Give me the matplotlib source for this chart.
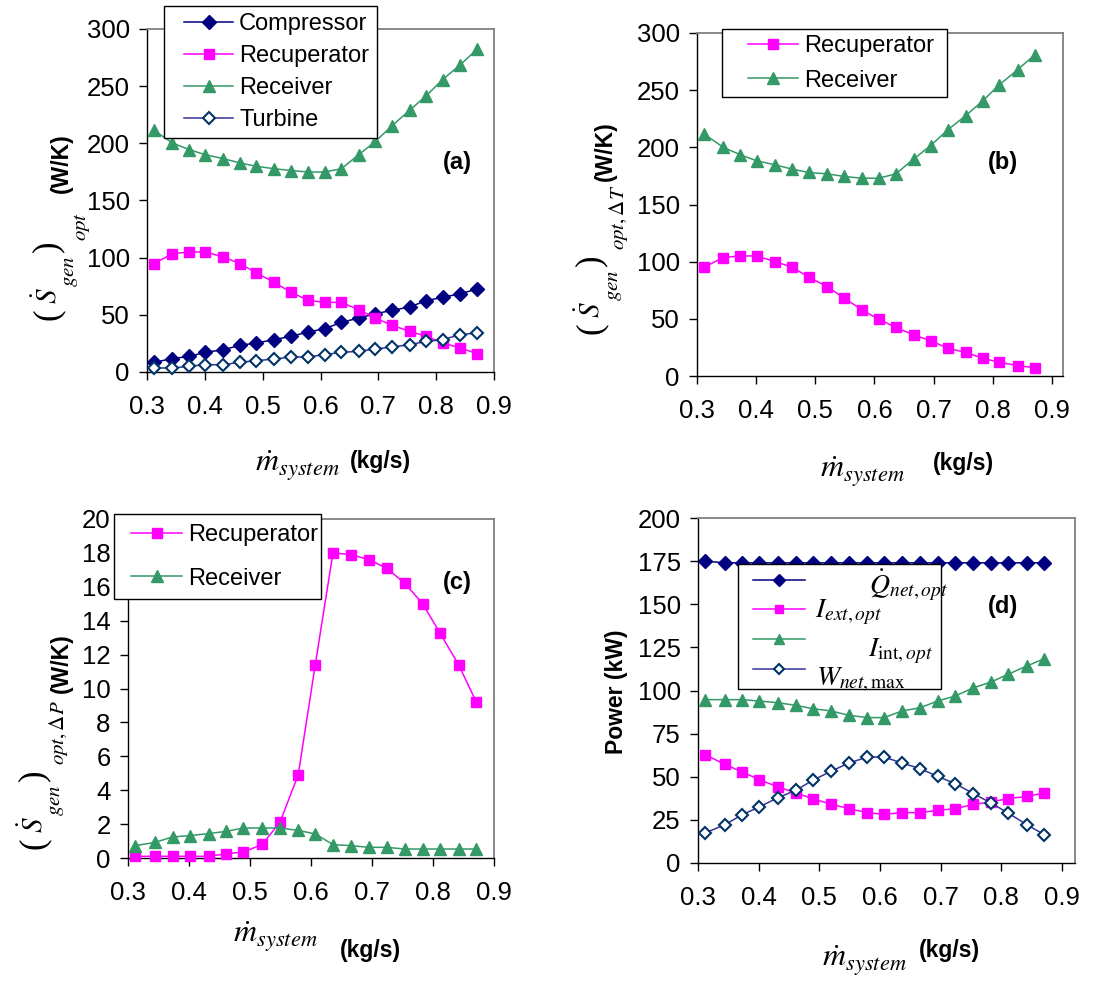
import matplotlib
matplotlib.use("Agg")
import matplotlib.pyplot as plt
from matplotlib.lines import Line2D
from matplotlib.legend_handler import HandlerLine2D

plt.rcParams['font.family'] = ['Liberation Sans', 'DejaVu Sans']
plt.rcParams['mathtext.fontset'] = 'stix'

W, H = 1112, 985

# flujo masico del sistema (kg/s)
m_dot = [0.312, 0.344, 0.373, 0.401, 0.432, 0.461, 0.489, 0.520, 0.549, 0.579,
         0.607, 0.636, 0.666, 0.695, 0.724, 0.754, 0.783, 0.811, 0.842, 0.871]

# (a) generacion de entropia total por componente (W/K)
sgen_compressor = [8.5, 11.7, 13.7, 17.2, 19.5, 23.3, 25.4, 28.3, 31.2, 35.0,
                   37.9, 43.4, 47.2, 51.0, 53.9, 56.9, 62.4, 65.3, 68.5, 72.6]
sgen_recuperator = [94.8, 103.5, 105.0, 105.0, 100.6, 94.8, 86.6, 78.4, 69.7, 62.7,
                    60.9, 60.9, 54.5, 47.2, 40.8, 35.6, 31.2, 25.4, 21.0, 16.0]
sgen_receiver = [211.4, 200.3, 194.5, 190.0, 186.6, 182.8, 179.9, 177.8, 176.2, 174.9,
                 174.9, 177.8, 190.0, 201.7, 215.5, 228.9, 241.7, 255.7, 268.8, 282.5]
sgen_turbine = [3.5, 3.5, 5.0, 6.4, 6.4, 8.5, 9.9, 11.4, 13.1, 13.1,
                15.2, 17.2, 18.1, 20.1, 21.9, 23.9, 26.8, 28.3, 32.7, 34.1]

# (b) parte por diferencia de temperatura (W/K)
dT_recuperator = [95.1, 103.6, 105.0, 105.0, 100.1, 95.1, 86.4, 78.2, 68.0, 57.8,
                  49.6, 42.6, 35.9, 30.9, 24.2, 20.7, 15.5, 12.0, 9.0, 7.3]
dT_receiver = [211.6, 200.2, 193.5, 188.2, 184.7, 180.9, 178.0, 176.8, 174.5, 173.0,
               173.0, 176.8, 189.7, 201.6, 215.4, 227.6, 240.7, 254.7, 267.9, 281.0]

# (c) parte por caida de presion (W/K)
dP_recuperator = [0.1, 0.1, 0.1, 0.1, 0.1, 0.25, 0.35, 0.8, 2.1, 4.9,
                  11.4, 18.0, 17.9, 17.6, 17.1, 16.2, 15.0, 13.3, 11.4, 9.2]
dP_receiver = [0.73, 0.92, 1.24, 1.32, 1.44, 1.57, 1.77, 1.77, 1.77, 1.63,
               1.42, 0.79, 0.73, 0.63, 0.63, 0.53, 0.53, 0.53, 0.53, 0.53]

# (d) potencias (kW)
q_net = [175, 174, 174, 174, 174, 174, 174, 174, 174, 174,
         174, 174, 174, 174, 174, 174, 174, 174, 174, 174]
i_ext = [62.8, 57.2, 52.8, 48.3, 44.1, 40.6, 37.3, 34.0, 31.5, 29.2,
         28.2, 29.2, 29.2, 30.5, 31.5, 34.0, 35.4, 37.3, 38.6, 40.6]
i_int = [94.7, 94.7, 94.7, 93.9, 92.9, 91.4, 89.5, 88.1, 85.6, 84.3,
         84.3, 88.1, 90.0, 93.9, 96.8, 101.6, 104.9, 109.4, 114.2, 118.5]
w_net = [17.4, 22.2, 28.0, 32.5, 37.9, 42.1, 47.9, 53.3, 58.0, 61.4,
         61.4, 58.0, 54.7, 50.2, 46.0, 40.2, 34.8, 29.0, 22.2, 16.4]

x_ticks = [0.3, 0.4, 0.5, 0.6, 0.7, 0.8, 0.9]

NAVY = '#000080'
MAGENTA = '#FF00FF'
GREEN = '#339966'

estilos = {
    'diamante': dict(color=NAVY, marker='D', markersize=7, mfc=NAVY, mec=NAVY),
    'cuadrado': dict(color=MAGENTA, marker='s', markersize=7, mfc=MAGENTA, mec=MAGENTA),
    'triangulo': dict(color=GREEN, marker='^', markersize=8.5, mfc=GREEN, mec=GREEN),
    'abierto': dict(color='#333399', marker='D', markersize=6.5, mfc='white',
                    mec='#003366', mew=1.5),
}


def px_box(left, top, right, bottom):
    return [left / W, 1 - bottom / H, (right - left) / W, (bottom - top) / H]


def preparar_ejes(ax, ylim, yticks, xmax):
    ax.set_xlim(0.3, xmax)
    ax.set_ylim(*ylim)
    ax.set_xticks(x_ticks)
    ax.set_xticklabels([f"{t:.1f}" for t in x_ticks])
    ax.set_yticks(yticks)
    ax.set_yticklabels([str(t) for t in yticks])
    for lado in ['left', 'bottom']:
        ax.spines[lado].set_color('black')
        ax.spines[lado].set_linewidth(1.0)
    for lado in ['top', 'right']:
        ax.spines[lado].set_color('#808080')
        ax.spines[lado].set_linewidth(1.3)
    ax.tick_params(axis='both', direction='out', length=5.5, width=1.0,
                   labelsize=18.5, top=False, right=False)
    ax.tick_params(axis='x', pad=11)
    ax.tick_params(axis='y', pad=7)


def graficar(ax, y, estilo, label):
    ax.plot(m_dot, y, lw=1.1, clip_on=False, label=label, zorder=3, **estilos[estilo])


def leyenda(ax, x0, y0, ancho, xpad, hlen, bpad, lspace, handles=None, labels=None):
    kw = dict(loc='upper left', bbox_to_anchor=(x0, y0, ancho, 0.0), mode='expand',
              fontsize=17, frameon=True, fancybox=False, edgecolor='black',
              framealpha=1, borderpad=bpad, labelspacing=lspace, handlelength=hlen,
              handletextpad=0.25, borderaxespad=0,
              handler_map={Line2D: HandlerLine2D(xpad=xpad)})
    if handles is None:
        leg = ax.legend(**kw)
    else:
        leg = ax.legend(handles, labels, **kw)
    leg.get_frame().set_linewidth(1.0)
    leg.set_zorder(5)
    return leg


def etiqueta_panel(texto, x, y):
    fig.text(x / W, 1 - y / H, texto, fontsize=17, fontweight='bold', ha='center', va='center')


def etiqueta_x(xm, ym, xk, yk):
    fig.text(xm / W, 1 - ym / H, r"$\dot{m}_{system}$", fontsize=23, va='baseline')
    fig.text(xk / W, 1 - yk / H, "(kg/s)", fontsize=16.5, fontweight='bold', va='baseline')


def etiqueta_y(sub, xb, yb, dx_sub, dy_sub, xw, yw):
    # (S_gen)_sub escrito en vertical, pieza por pieza
    piezas = [("(", 0, 0, 25, 'Liberation Serif'), (r"$\dot{S}$", 0, -18, 21, None),
              (r"$gen$", 23, -43, 15, None), (")", 0, -68, 25, 'Liberation Serif')]
    for texto, dx, dy, fs, fam in piezas:
        t = fig.text((xb + dx) / W, 1 - (yb + dy) / H, texto, fontsize=fs, rotation=90,
                     ha='center', va='center')
        if fam:
            t.set_family(fam)
    fig.text((xb + dx_sub) / W, 1 - (yb + dy_sub) / H, sub, fontsize=15, rotation=90,
             ha='center', va='bottom')
    fig.text(xw / W, 1 - yw / H, "(W/K)", fontsize=16.5, fontweight='bold',
             rotation=90, ha='center', va='center')


fig = plt.figure(figsize=(W / 100, H / 100), dpi=100)

# ==== (a) ====
ax_a = fig.add_axes(px_box(147, 29, 494, 372))
graficar(ax_a, sgen_compressor, 'diamante', 'Compressor')
graficar(ax_a, sgen_recuperator, 'cuadrado', 'Recuperator')
graficar(ax_a, sgen_receiver, 'triangulo', 'Receiver')
graficar(ax_a, sgen_turbine, 'abierto', 'Turbine')
preparar_ejes(ax_a, (0, 300), list(range(0, 301, 50)), 0.9)
leyenda(ax_a, 0.049, 1.067, 0.614, 0.55, 2.63, 0.3, 0.42)
etiqueta_panel("(a)", 457, 163)
etiqueta_y(r"$opt$", 48, 314, 34, -73, 61, 163)
etiqueta_x(255, 472, 350, 468)

# ==== (b) ====
ax_b = fig.add_axes(px_box(697, 33, 1063, 376))
graficar(ax_b, dT_recuperator, 'cuadrado', 'Recuperator')
graficar(ax_b, dT_receiver, 'triangulo', 'Receiver')
preparar_ejes(ax_b, (0, 300), list(range(0, 301, 50)), 0.9186)
leyenda(ax_b, 0.068, 1.012, 0.615, 0.85, 2.97, 0.25, 0.54)
etiqueta_panel("(b)", 1003, 163)
etiqueta_y(r"$opt,\Delta T$", 591, 328, 28, -78, 605, 151)
etiqueta_x(820, 478, 933, 470)

# ==== (c) ====
ax_c = fig.add_axes(px_box(128, 519, 494, 858))
graficar(ax_c, dP_recuperator, 'cuadrado', 'Recuperator')
graficar(ax_c, dP_receiver, 'triangulo', 'Receiver')
preparar_ejes(ax_c, (0, 20), list(range(0, 21, 2)), 0.9)
leyenda(ax_c, -0.038, 1.015, 0.566, 0.3, 2.46, 0.42, 0.92)
etiqueta_panel("(c)", 457, 583)
etiqueta_y(r"$opt,\Delta P$", 34, 843, 25, -78, 61, 663)
etiqueta_x(233, 943, 340, 957)

# ==== (d) ====
ax_d = fig.add_axes(px_box(698, 518, 1075, 863))
graficar(ax_d, q_net, 'diamante', None)
graficar(ax_d, i_ext, 'cuadrado', None)
graficar(ax_d, i_int, 'triangulo', None)
graficar(ax_d, w_net, 'abierto', None)
preparar_ejes(ax_d, (0, 200), list(range(0, 201, 25)), 0.9214)
handles = [Line2D([], [], lw=1.1, **dict(estilos[k], markersize=estilos[k]['markersize'] * 0.85))
           for k in ['diamante', 'cuadrado', 'triangulo', 'abierto']]
leyenda(ax_d, 0.106, 0.867, 0.539, 0.34, 2.54, 0.3, 0.33, handles, [' '] * 4)
etiquetas_d = [(r"$\dot{Q}_{net,opt}$", 0.453, 0.805),
               (r"$I_{ext,opt}$", 0.310, 0.728),
               (r"$I_{\mathrm{int},opt}$", 0.450, 0.615),
               (r"$W_{net,\mathrm{max}}$", 0.314, 0.532)]
for texto, tx, ty in etiquetas_d:
    ax_d.text(tx, ty, texto, transform=ax_d.transAxes, fontsize=20, ha='left',
              va='center', zorder=6)
etiqueta_panel("(d)", 1003, 607)
fig.text(617 / W, 1 - 692 / H, "Power (kW)", fontsize=16.5, fontweight='bold',
         rotation=90, ha='center', va='center')
etiqueta_x(822, 967, 919, 957)

fig.savefig("out.png", dpi=100)
